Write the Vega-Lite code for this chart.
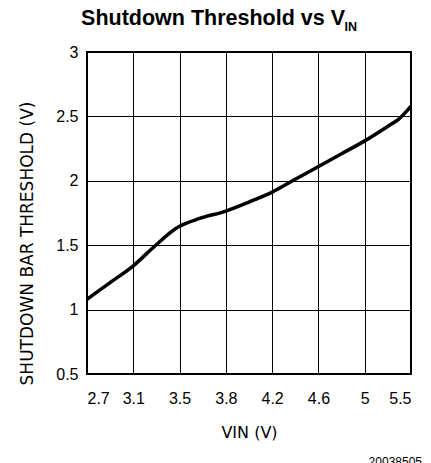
{
  "$schema": "https://vega.github.io/schema/vega-lite/v6.json",
  "autosize": "none",
  "width": 324,
  "height": 322,
  "padding": {"left": 87, "top": 52, "right": 20, "bottom": 89},
  "background": "white",
  "title": {
    "text": "Shutdown Threshold vs V\u00a0\u00a0\u200b",
    "subtitle": "IN",
    "anchor": "end",
    "frame": "group",
    "dx": -54,
    "offset": 11,
    "font": "Liberation Sans",
    "fontSize": 21.5,
    "fontWeight": "bold",
    "color": "black",
    "subtitleFont": "Liberation Sans",
    "subtitleFontSize": 12.5,
    "subtitleFontWeight": "bold",
    "subtitleColor": "black",
    "subtitlePadding": -9
  },
  "config": {
    "view": {"stroke": "black", "strokeWidth": 2},
    "axis": {
      "grid": true,
      "gridColor": "black",
      "gridOpacity": 1,
      "gridWidth": 1,
      "domain": false,
      "ticks": false,
      "labelFont": "Liberation Sans",
      "labelFontSize": 16,
      "labelColor": "black",
      "titleFont": "DejaVu Sans",
      "titleFontSize": 16,
      "titleFontWeight": "normal",
      "titleColor": "black"
    }
  },
  "layer": [
    {
      "data": {
        "values": [
          {"vin": 2.7, "threshold": 1.08},
          {"vin": 2.9, "threshold": 1.21},
          {"vin": 3.1, "threshold": 1.34},
          {"vin": 3.294, "threshold": 1.5},
          {"vin": 3.468, "threshold": 1.63},
          {"vin": 3.5, "threshold": 1.647},
          {"vin": 3.668, "threshold": 1.706},
          {"vin": 3.9, "threshold": 1.765},
          {"vin": 4.1, "threshold": 1.835},
          {"vin": 4.3, "threshold": 1.912},
          {"vin": 4.476, "threshold": 2.0},
          {"vin": 4.7, "threshold": 2.111},
          {"vin": 4.9, "threshold": 2.21},
          {"vin": 5.1, "threshold": 2.31},
          {"vin": 5.312, "threshold": 2.43},
          {"vin": 5.392, "threshold": 2.477},
          {"vin": 5.5, "threshold": 2.58}
        ]
      },
      "mark": {"type": "line", "color": "black", "strokeWidth": 3.5, "interpolate": "monotone", "clip": true},
      "encoding": {
        "x": {
          "field": "vin",
          "type": "quantitative",
          "scale": {"domain": [2.7, 5.5], "nice": false, "zero": false},
          "axis": {
            "values": [2.7, 3.1, 3.5, 3.9, 4.3, 4.7, 5.1, 5.5],
            "labelExpr": "datum.value == 3.9 ? '3.8' : datum.value == 4.3 ? '4.2' : datum.value == 4.7 ? '4.6' : datum.value == 5.1 ? '5' : format(datum.value, '.1f')",
            "labelPadding": 16,
            "title": "VIN (V)",
            "titleX": 162,
            "titleY": 63,
            "titleAlign": "center",
            "titleBaseline": "alphabetic"
          }
        },
        "y": {
          "field": "threshold",
          "type": "quantitative",
          "scale": {"domain": [0.5, 3], "nice": false, "zero": false},
          "axis": {
            "values": [0.5, 1, 1.5, 2, 2.5, 3],
            "format": "~g",
            "labelPadding": 9,
            "title": "SHUTDOWN BAR THRESHOLD (V)",
            "titleFontSize": 17,
            "titleX": -55,
            "titleY": 191,
            "titleAngle": -90,
            "titleAlign": "center",
            "titleBaseline": "alphabetic"
          }
        }
      }
    },
    {
      "data": {"values": [{"note": "20038505"}]},
      "mark": {"type": "text", "align": "right", "baseline": "top", "dx": 11, "dy": 83, "font": "Liberation Sans", "fontSize": 12, "color": "black"},
      "encoding": {
        "x": {"datum": 5.5},
        "y": {"datum": 0.5},
        "text": {"field": "note"}
      }
    }
  ]
}
